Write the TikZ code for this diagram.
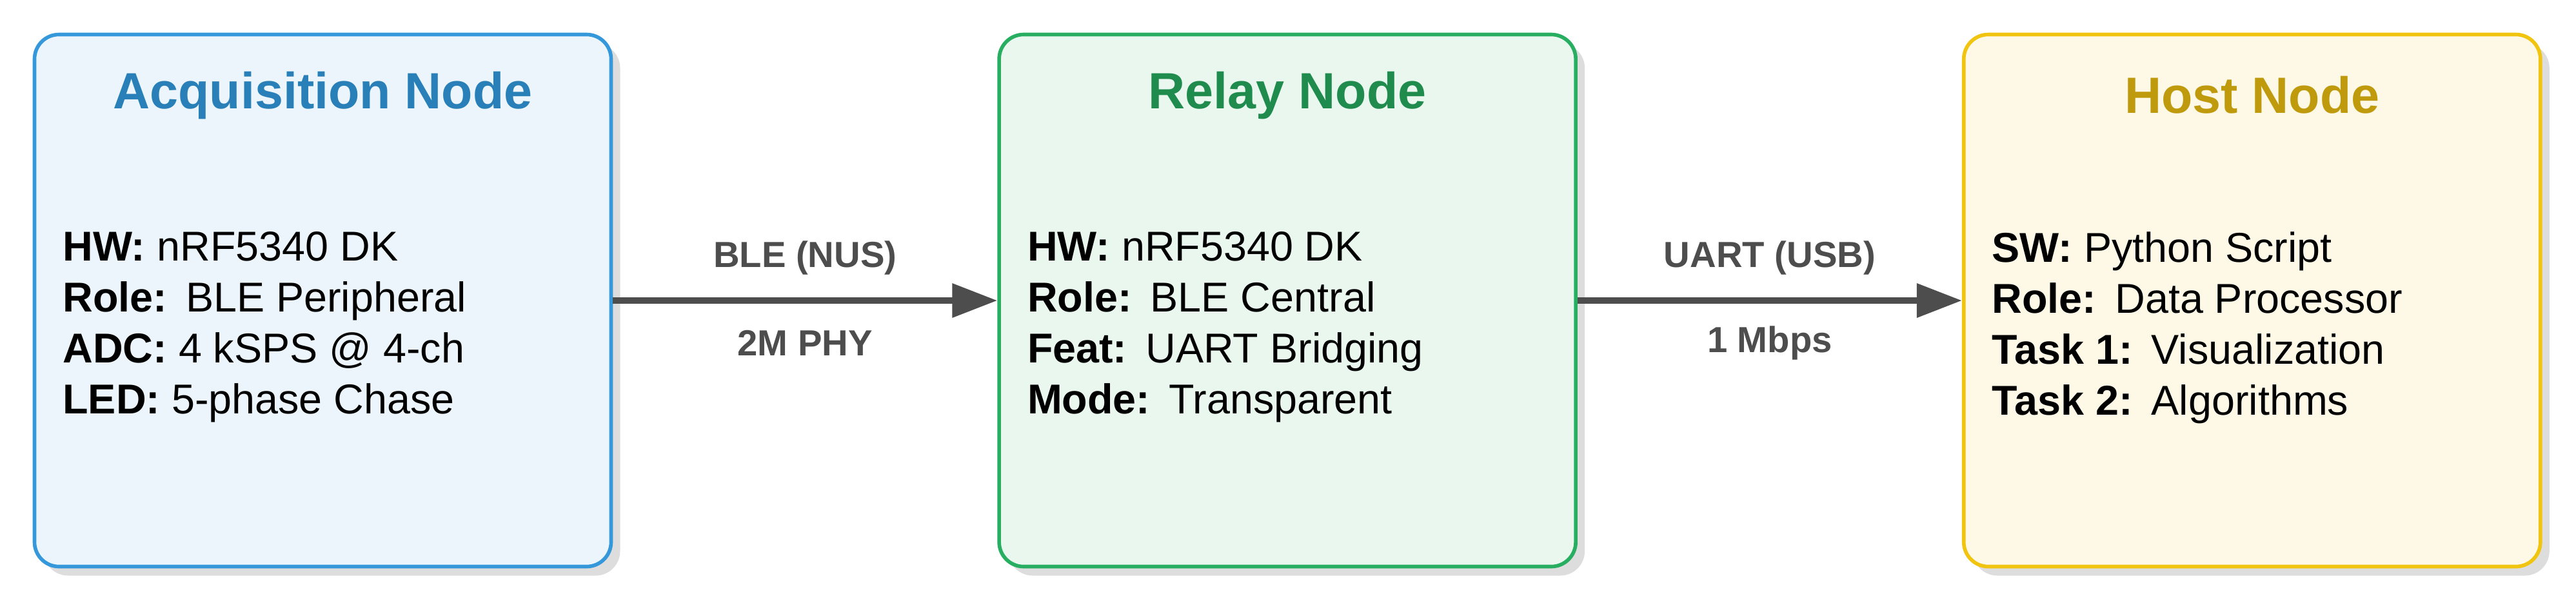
\documentclass[tikz,border=0pt]{standalone}
\usepackage{fontspec}
\setmainfont{Liberation Sans}
\usetikzlibrary{positioning,arrows.meta,shadows}

\definecolor{acqline}{HTML}{3498DB}
\definecolor{acqfill}{HTML}{EBF5FB}
\definecolor{acqtext}{HTML}{2980B9}
\definecolor{relline}{HTML}{27AE60}
\definecolor{relfill}{HTML}{E9F7EF}
\definecolor{reltext}{HTML}{1F8B4C}
\definecolor{hostline}{HTML}{F1C40F}
\definecolor{hostfill}{HTML}{FEF9E7}
\definecolor{hosttext}{HTML}{BF9A0C}
\definecolor{linkgray}{HTML}{4D4D4D}
\definecolor{shade}{HTML}{DDDDDD}

\newcommand{\fieldgap}{\hspace{0.45em}}

\begin{document}
\begin{tikzpicture}
	\tikzstyle{station} = [rectangle, rounded corners=0.38cm, line width=1.6pt, minimum width=8.94cm, minimum height=8.25cm, inner sep=0pt, drop shadow={shadow xshift=0.14cm, shadow yshift=-0.14cm, fill=shade, opacity=1}]
	\tikzstyle{heading} = [inner sep=0pt, font=\fontsize{22.5}{27}\selectfont\bfseries]
	\tikzstyle{info} = [anchor=north west, align=left, inner sep=0pt, font=\fontsize{18.4}{22.5}\selectfont]
	\tikzstyle{link} = [-{Triangle[length=0.7cm,width=0.51cm]}, line width=2.8pt, draw=linkgray]
	\tikzstyle{tag} = [inner sep=0pt, font=\fontsize{16}{19}\selectfont\bfseries, text=linkgray]
	\useasboundingbox (0,0) rectangle (39.94,9.34);
	% the three nodes
	\node[station, draw=acqline, fill=acqfill] (acq) at (5.005,4.68) {};
	\node[station, draw=relline, fill=relfill, right=5.96cm of acq] (relay) {};
	\node[station, draw=hostline, fill=hostfill, right=5.96cm of relay] (host) {};
	\node[heading, text=acqtext] (acqhead) at ([yshift=-0.97cm]acq.north) {Acquisition Node};
	\node[heading, text=reltext] (relhead) at ([yshift=-0.97cm]relay.north) {Relay Node};
	\node[heading, text=hosttext] (hosthead) at ([yshift=-0.97cm]host.north) {Host Node};
	\node[info] (acqinfo) at ([xshift=0.46cm, yshift=-3.08cm]acq.north west)
		{\textbf{HW:} nRF5340 DK\\ \textbf{Role:}\fieldgap BLE Peripheral\\ \textbf{ADC:} 4 kSPS @ 4-ch\\ \textbf{LED:} 5-phase Chase};
	\node[info] (relinfo) at ([xshift=0.46cm, yshift=-3.08cm]relay.north west)
		{\textbf{HW:} nRF5340 DK\\ \textbf{Role:}\fieldgap BLE Central\\ \textbf{Feat:}\fieldgap UART Bridging\\ \textbf{Mode:}\fieldgap Transparent};
	\node[info] (hostinfo) at ([xshift=0.46cm, yshift=-3.08cm]host.north west)
		{\textbf{SW:} Python Script\\ \textbf{Role:}\fieldgap Data Processor\\ \textbf{Task 1:}\fieldgap Visualization\\ \textbf{Task 2:}\fieldgap Algorithms};
	% links
	\draw[link] (acq) -- node[tag, yshift=0.66cm] {BLE (NUS)} node[tag, yshift=-0.66cm] {2M PHY} (relay);
	\draw[link] (relay) -- node[tag, yshift=0.66cm] {UART (USB)} node[tag, yshift=-0.66cm] {1 Mbps} (host);
\end{tikzpicture}
\end{document}
